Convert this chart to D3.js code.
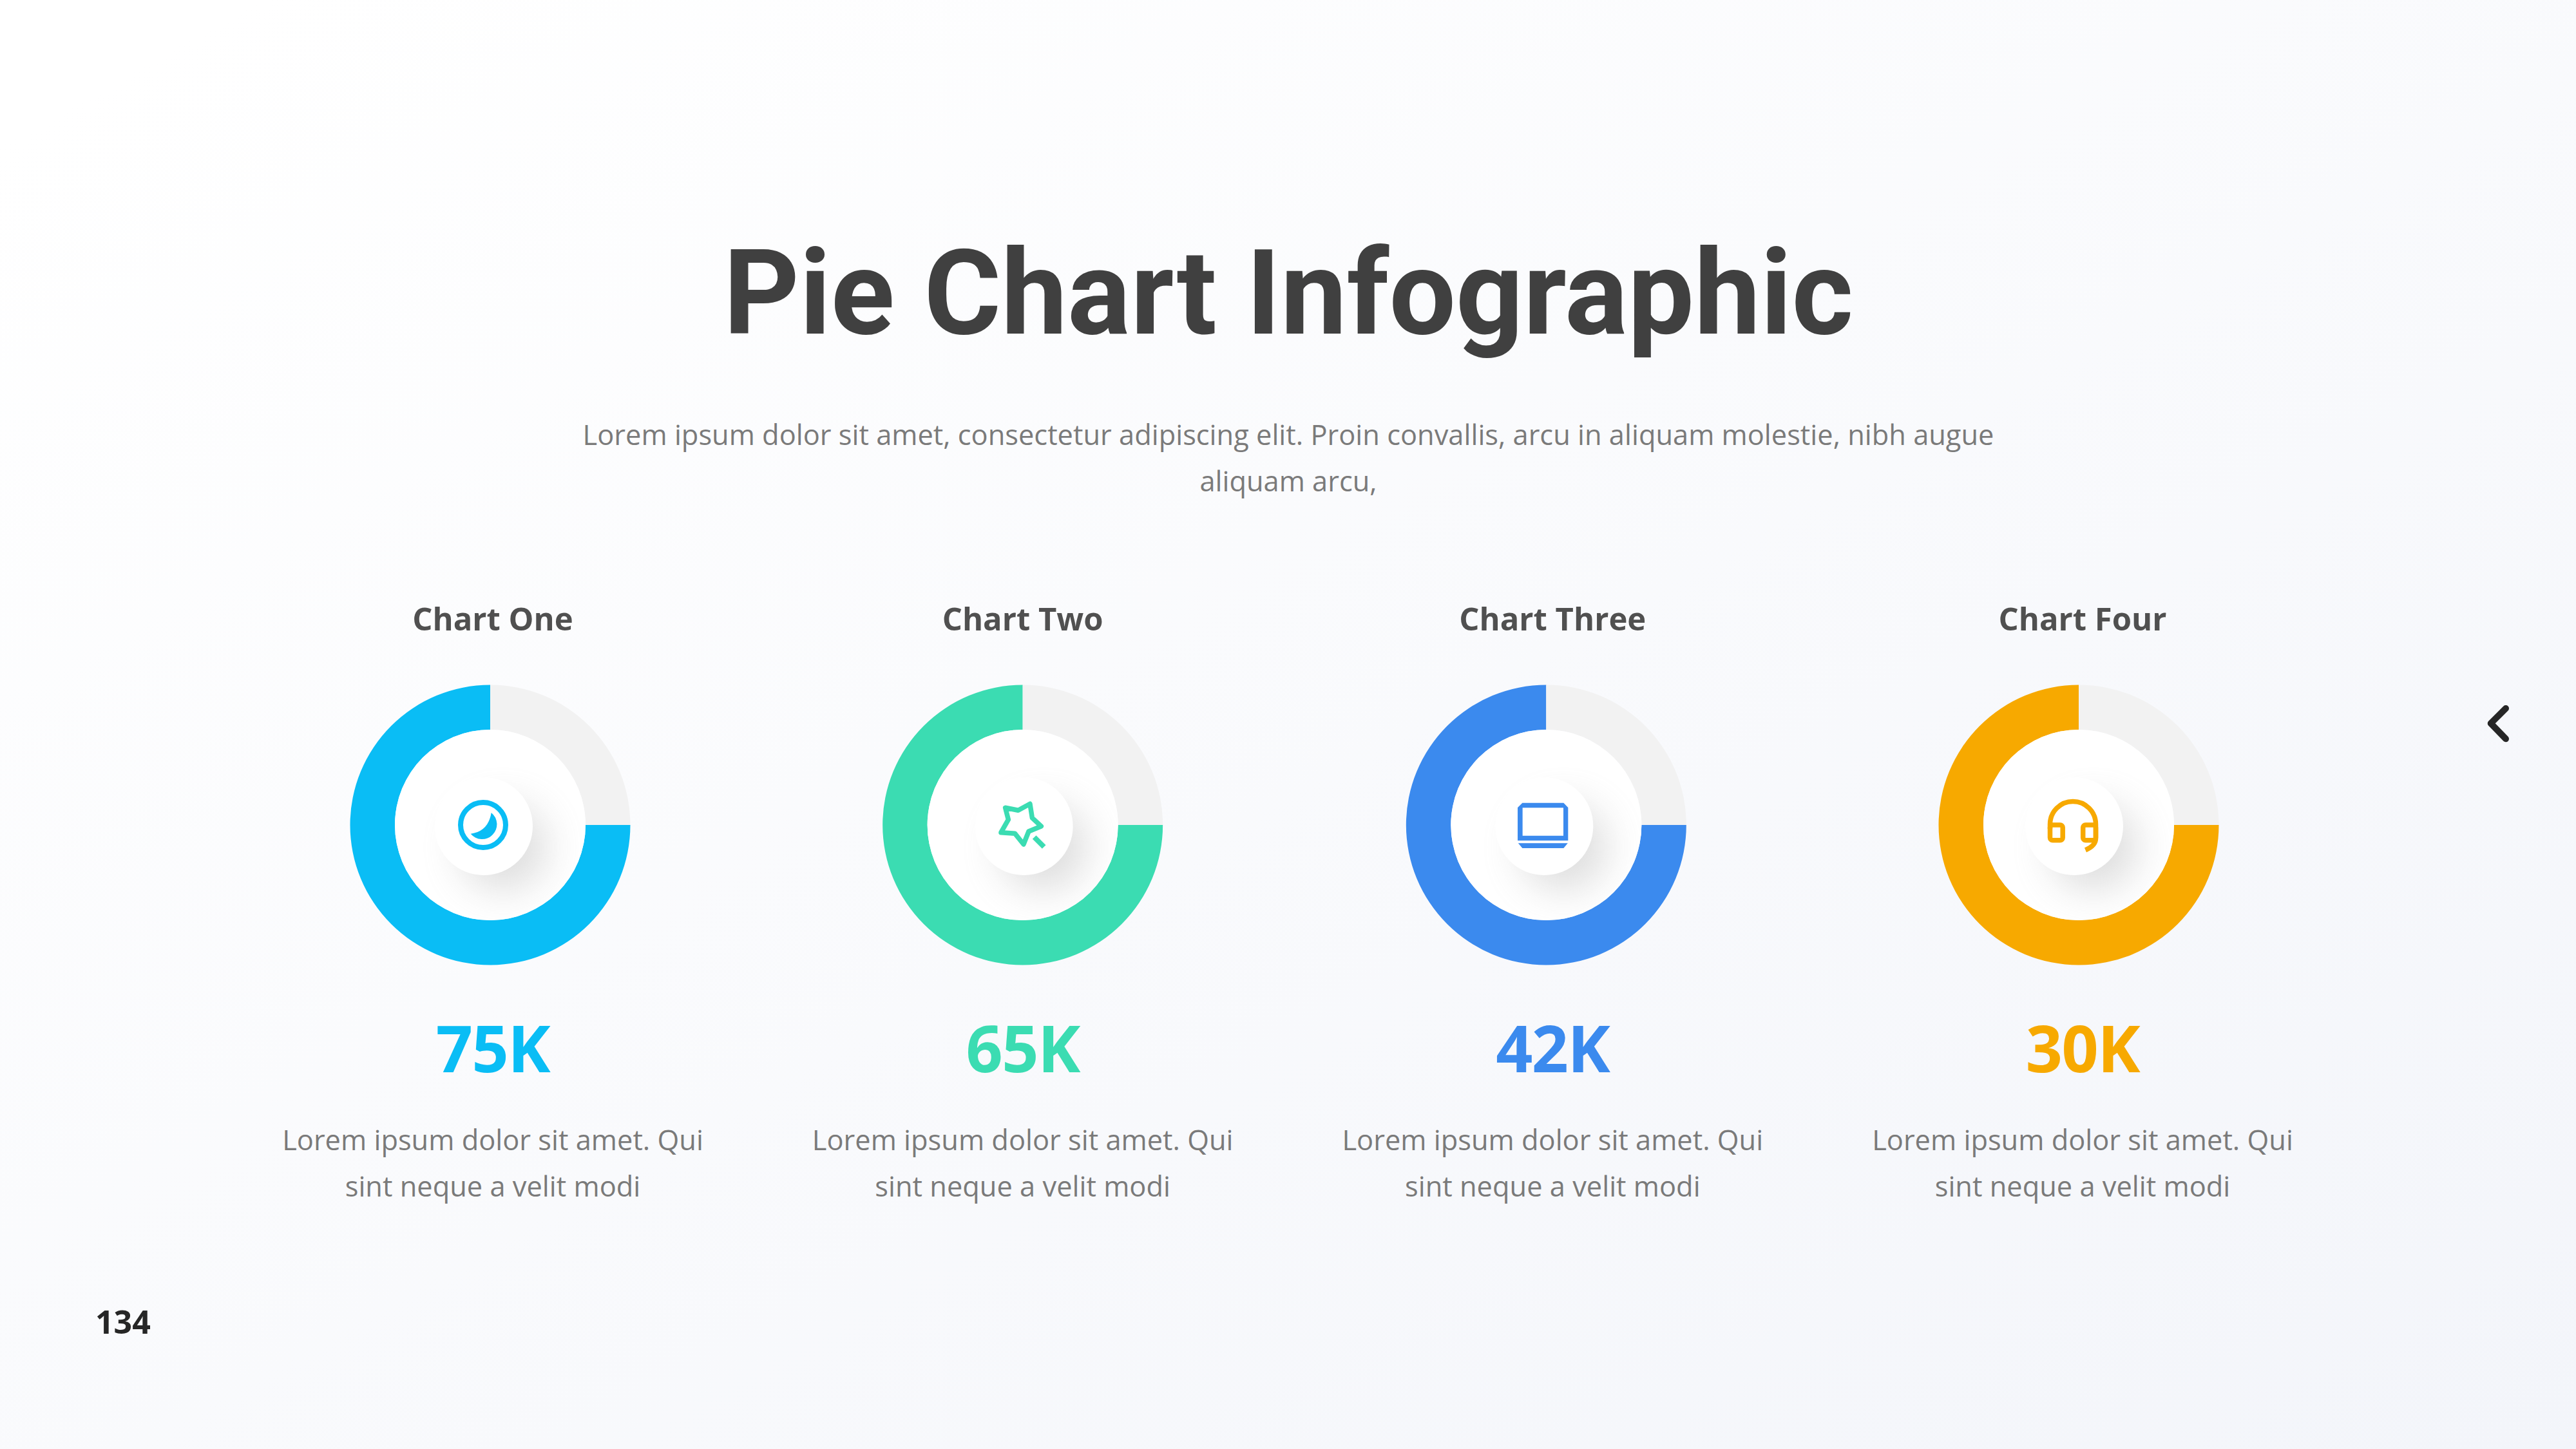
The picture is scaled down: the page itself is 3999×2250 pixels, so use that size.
<!DOCTYPE html>
<html>
<head>
<meta charset="utf-8">
<script src="https://cdn.jsdelivr.net/npm/d3@7"></script>
<style>
  html, body { margin: 0; padding: 0; background: #fff; }
  svg { display: block; }
  text { font-family: "Open Sans", sans-serif; }
</style>
</head>
<body>
<svg id="chart" width="3999" height="2250"></svg>
<script>
var titleText = 'Pie Chart Infographic';
var subtitleLines = [
  'Lorem ipsum dolor sit amet, consectetur adipiscing elit. Proin convallis, arcu in aliquam molestie, nibh augue',
  'aliquam arcu,'
];
var chartNames = ['Chart One', 'Chart Two', 'Chart Three', 'Chart Four'];
var valueLabels = ['75K', '65K', '42K', '30K'];
var filledShare = [75, 75, 75, 75];
var restShare = [25, 25, 25, 25];
var colors = ['#0abdf5', '#3bdcb2', '#3b8aee', '#f7a900'];
var iconNames = ['moon', 'star', 'laptop', 'headset'];
var captionLines = ['Lorem ipsum dolor sit amet. Qui', 'sint neque a velit modi'];
var pageNumber = '134';

// the rings in the slide are not quite evenly spaced, so nudge them off the label column
var ringNudge = [-4, 0, -10, -6];
var discNudge = [-10, 2, -3, -7];
var iconNudge = [-11, -3, -5, -9];

var svg = d3.select('#chart');
var defs = svg.append('defs');

var bg = defs.append('linearGradient').attr('id', 'bg')
  .attr('x1', 0).attr('y1', 0).attr('x2', 1).attr('y2', 1);
bg.append('stop').attr('offset', '0.05').attr('stop-color', '#ffffff');
bg.append('stop').attr('offset', '1').attr('stop-color', '#f3f5fa');

var blur = defs.append('filter').attr('id', 'soft')
  .attr('x', '-60%').attr('y', '-60%').attr('width', '220%').attr('height', '220%');
blur.append('feGaussianBlur').attr('stdDeviation', 30);

svg.append('rect').attr('width', 3999).attr('height', 2250).attr('fill', 'url(#bg)');

svg.append('text')
  .attr('x', 2000).attr('y', 518)
  .attr('text-anchor', 'middle')
  .style('font-family', 'Roboto')
  .style('font-weight', 700)
  .style('font-size', '183.4px')
  .attr('fill', '#404040')
  .text(titleText);

svg.selectAll('.sub').data(subtitleLines).enter().append('text')
  .attr('class', 'sub')
  .attr('x', 2000)
  .attr('y', function(d, i) { return 691 + i * 72; })
  .attr('text-anchor', 'middle')
  .style('font-size', '43.4px')
  .attr('fill', '#7a7a7a')
  .text(function(d) { return d; });

var x = d3.scalePoint().domain(chartNames).range([765, 3233]);
var pie = d3.pie().sort(null).startAngle(Math.PI / 2).endAngle(Math.PI * 2.5);
var arc = d3.arc().innerRadius(148).outerRadius(217.5);

var ringY = 1281;

var icons = {
  moon: function(g, color) {
    g.append('circle').attr('r', 35).attr('fill', 'none')
      .attr('stroke', color).attr('stroke-width', 8);
    g.append('path').attr('fill', color)
      .attr('d', 'M12.7,-19 Q8,10 -19.3,13.7 A23,23 0 1 0 12.7,-19 Z');
  },
  star: function(g, color) {
    g.append('path').attr('fill', 'none')
      .attr('stroke', color).attr('stroke-width', 7.5).attr('stroke-linejoin', 'round')
      .attr('d', 'M-24,-26.7 L-4,-22.7 L14.3,-32.7 L17.7,-11 L31.7,2 L12.3,10 L4.3,30 L-9,13.3 L-30.7,11.7 L-19.3,-8.3 Z');
    g.append('path').attr('fill', 'none')
      .attr('stroke', color).attr('stroke-width', 8)
      .attr('d', 'M21,19 L36,34');
  },
  laptop: function(g, color) {
    g.append('path').attr('fill', color).attr('fill-rule', 'evenodd')
      .attr('d', 'M-32,-34.3 H32 L39,-27 V24.3 H-39.3 V-27 Z M-31.7,-26.7 V16.7 H31.7 V-26.7 Z');
    g.append('path').attr('fill', color)
      .attr('d', 'M-38.5,28.3 H38.5 L32,36 H-32 Z');
  },
  headset: function(g, color) {
    var line = function(d) {
      g.append('path').attr('fill', 'none')
        .attr('stroke', color).attr('stroke-width', 7.5).attr('d', d);
    };
    line('M-35.5,6 V-1 A35.5,35.5 0 0 1 35.5,-1 V21 Q35.5,32 19.5,39');
    g.append('rect').attr('x', -35.5).attr('y', 0).attr('width', 19.7).attr('height', 23.7).attr('rx', 4)
      .attr('fill', 'none').attr('stroke', color).attr('stroke-width', 7.5);
    g.append('rect').attr('x', 15.7).attr('y', 0).attr('width', 19.8).attr('height', 23.7).attr('rx', 4)
      .attr('fill', 'none').attr('stroke', color).attr('stroke-width', 7.5);
  }
};

chartNames.forEach(function(name, i) {
  var cx = x(name);
  var ringX = cx + ringNudge[i];
  var g = svg.append('g').attr('class', 'chart');

  g.append('text')
    .attr('x', cx).attr('y', 979)
    .attr('text-anchor', 'middle')
    .style('font-size', '49px')
    .style('font-weight', 700)
    .attr('fill', '#505050')
    .text(name);

  var ring = g.append('g').attr('transform', 'translate(' + ringX + ',' + ringY + ')');
  ring.selectAll('path')
    .data(pie([filledShare[i], restShare[i]]))
    .enter().append('path')
    .attr('d', arc)
    .attr('fill', function(d, k) { return k === 0 ? colors[i] : '#f2f2f2'; });
  ring.append('circle').attr('r', 148).attr('fill', '#ffffff');

  var clipId = 'clip' + i;
  defs.append('clipPath').attr('id', clipId)
    .append('circle').attr('r', 148);

  var discX = discNudge[i];
  ring.append('g').attr('clip-path', 'url(#' + clipId + ')')
    .append('circle')
    .attr('cx', discX + 30).attr('cy', 34).attr('r', 68)
    .attr('fill', '#999999').attr('opacity', 0.32)
    .attr('filter', 'url(#soft)');
  ring.append('circle')
    .attr('cx', discX).attr('cy', 2).attr('r', 76)
    .attr('fill', '#ffffff');

  icons[iconNames[i]](
    ring.append('g').attr('transform', 'translate(' + (iconNudge[i]) + ',0)'),
    colors[i]
  );

  g.append('text')
    .attr('x', cx).attr('y', 1665)
    .attr('text-anchor', 'middle')
    .style('font-size', '100px')
    .style('font-weight', 700)
    .style('letter-spacing', '-1.5px')
    .attr('fill', colors[i])
    .text(valueLabels[i]);

  g.selectAll('.cap').data(captionLines).enter().append('text')
    .attr('class', 'cap')
    .attr('x', cx)
    .attr('y', function(d, k) { return 1786 + k * 72; })
    .attr('text-anchor', 'middle')
    .style('font-size', '43.4px')
    .attr('fill', '#7a7a7a')
    .text(function(d) { return d; });
});

svg.append('text')
  .attr('x', 148).attr('y', 2071)
  .style('font-size', '50px')
  .style('font-weight', 700)
  .attr('fill', '#262626')
  .text(pageNumber);

svg.append('path')
  .attr('d', 'M3890,1100 L3866.7,1123.3 L3890,1147.3')
  .attr('fill', 'none')
  .attr('stroke', '#262626')
  .attr('stroke-width', 10)
  .attr('stroke-linecap', 'round')
  .attr('stroke-linejoin', 'round');
</script>
</body>
</html>
